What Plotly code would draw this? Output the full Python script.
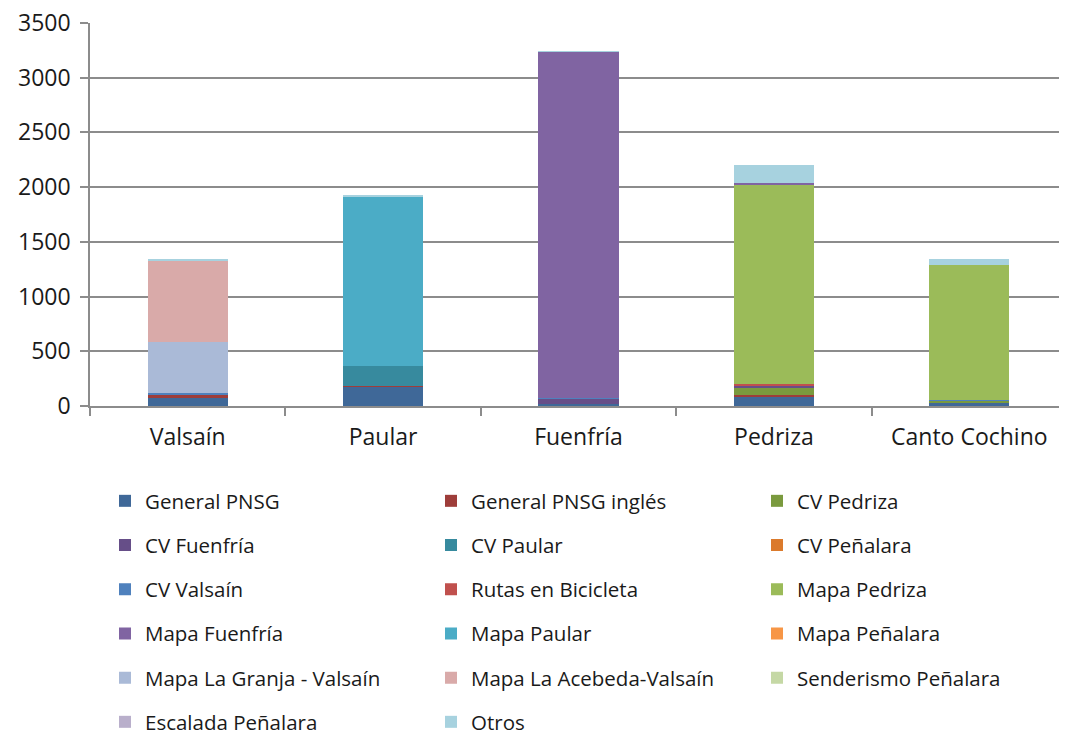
import plotly.graph_objects as go

categories = ["Valsaín", "Paular", "Fuenfría", "Pedriza", "Canto Cochino"]

series_names = [
    "General PNSG", "General PNSG inglés", "CV Pedriza",
    "CV Fuenfría", "CV Paular", "CV Peñalara",
    "CV Valsaín", "Rutas en Bicicleta", "Mapa Pedriza",
    "Mapa Fuenfría", "Mapa Paular", "Mapa Peñalara",
    "Mapa La Granja - Valsaín", "Mapa La Acebeda-Valsaín", "Senderismo Peñalara",
    "Escalada Peñalara", "Otros",
]

general_pnsg = [80, 177, 20, 91, 30]
general_pnsg_ingles = [18, 8, 0, 10, 0]
cv_pedriza = [0, 0, 0, 70, 18]
cv_fuenfria = [0, 0, 45, 10, 0]
cv_paular = [0, 183, 0, 0, 0]
cv_penalara = [0, 0, 0, 0, 0]
cv_valsain = [21, 0, 10, 0, 8]
rutas_bicicleta = [0, 0, 0, 22, 0]
mapa_pedriza = [0, 0, 0, 1822, 1237]
mapa_fuenfria = [0, 0, 3160, 10, 0]
mapa_paular = [0, 1545, 0, 0, 0]
mapa_penalara = [0, 0, 0, 0, 0]
mapa_granja = [466, 0, 0, 0, 0]
mapa_acebeda = [747, 0, 0, 0, 0]
senderismo_penalara = [0, 0, 0, 0, 0]
escalada_penalara = [0, 0, 0, 0, 0]
otros = [10, 15, 5, 165, 52]

series_values = [
    general_pnsg, general_pnsg_ingles, cv_pedriza,
    cv_fuenfria, cv_paular, cv_penalara,
    cv_valsain, rutas_bicicleta, mapa_pedriza,
    mapa_fuenfria, mapa_paular, mapa_penalara,
    mapa_granja, mapa_acebeda, senderismo_penalara,
    escalada_penalara, otros,
]

colors = [
    "#3F6898", "#9E3D3A", "#7A9A3E",
    "#664E88", "#378A9E", "#DB7A2C",
    "#4F81BD", "#C0504D", "#9BBB59",
    "#8064A2", "#4BACC6", "#F79646",
    "#AABAD7", "#D9AAA9", "#C5D8A5",
    "#B9AFCB", "#A7D2DF",
]

fig = go.Figure()
FONT = "Open Sans, Liberation Sans, sans-serif"
TXT = "#1a1a1a"

n_rows = 6
for i, (name, vals, col) in enumerate(zip(series_names, series_values, colors)):
    row = i // 3
    legend_id = "legend" if row == 0 else f"legend{row + 1}"
    fig.add_trace(go.Bar(
        x=categories, y=vals, name=name,
        marker=dict(color=col, line=dict(width=0)),
        legend=legend_id,
    ))

# page body has an 8px default margin; compensate in figure coordinates
OFF = 8
W, H = 1067 - OFF, 735 - OFF
plot_left = 90 - OFF
plot_top = 23 - OFF
plot_bottom = 406 - OFF
plot_right = W
plot_h = plot_bottom - plot_top
plot_w = plot_right - plot_left

legend_layouts = {}
for r in range(n_rows):
    center_px = 501 - OFF + r * 44.2
    ypaper = (plot_bottom - center_px) / plot_h
    key = "legend" if r == 0 else f"legend{r + 1}"
    legend_layouts[key] = dict(
        orientation="h", x=15 / plot_w, xanchor="left",
        y=ypaper, yanchor="middle",
        entrywidth=281, entrywidthmode="pixels",
        font=dict(family=FONT, size=20.5, color=TXT),
        bgcolor="rgba(0,0,0,0)", itemwidth=30, traceorder="normal",
        itemclick=False, itemdoubleclick=False,
    )

fig.update_layout(
    barmode="stack",
    bargap=0.59,
    width=W, height=H,
    margin=dict(l=plot_left, r=W - plot_right, t=plot_top, b=H - plot_bottom, autoexpand=False),
    paper_bgcolor="white", plot_bgcolor="white",
    font=dict(family=FONT, size=23, color=TXT),
    showlegend=True,
    **legend_layouts,
)

fig.update_yaxes(
    range=[0, 3500], dtick=500,
    showgrid=True, gridcolor="#8C8C8C", gridwidth=1.5,
    showline=True, linecolor="#8C8C8C", linewidth=1.5,
    ticks="outside", ticklen=8, tickcolor="#8C8C8C", tickwidth=1.5,
    tickfont=dict(family=FONT, size=23, color=TXT),
    ticklabeloverflow="allow", ticklabelstandoff=5,
    zeroline=False, automargin=False,
)
fig.update_xaxes(
    showline=True, linecolor="#8C8C8C", linewidth=1.5,
    ticks="outside", ticklen=8, tickcolor="#8C8C8C", tickwidth=1.5,
    tickson="boundaries", automargin=False,
    ticklabeloverflow="allow", ticklabelstandoff=10,
    tickfont=dict(family=FONT, size=23, color=TXT),
)

fig.write_html("out.html")
